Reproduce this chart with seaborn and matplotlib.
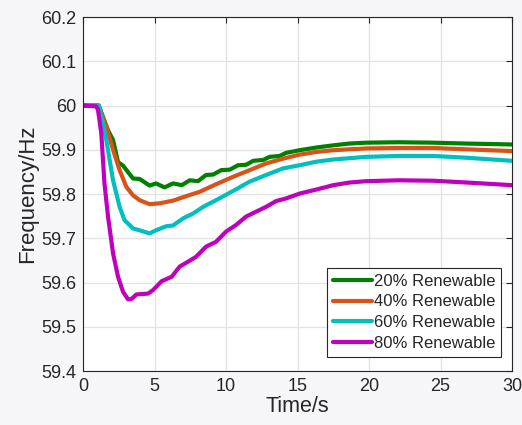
import numpy as np
import pandas as pd
import matplotlib
matplotlib.use("Agg")
import matplotlib.pyplot as plt
import seaborn as sns

# ---- data ----
t20 = [0, 1.1, 1.4, 1.75, 2.1, 2.45, 2.8, 3.5, 3.96, 4.66, 5.1, 5.7, 6.3, 6.9, 7.46, 8.04, 8.6, 9.1,
       9.67, 10.26, 10.84, 11.4, 11.9, 12.6, 13.05, 13.75, 14.2, 15.15, 16.3, 17.5, 18.6, 19.8, 22.1,
       24.5, 26.8, 30]
f20 = [60.0, 60.0, 59.974, 59.944, 59.922, 59.872, 59.864, 59.835, 59.834, 59.819, 59.824, 59.815,
       59.824, 59.82, 59.831, 59.829, 59.843, 59.844, 59.854, 59.855, 59.865, 59.866, 59.875, 59.877,
       59.884, 59.886, 59.893, 59.899, 59.905, 59.91, 59.914, 59.916, 59.917, 59.916, 59.914, 59.912]

t40 = [0, 1.1, 1.4, 1.63, 2.1, 2.56, 3.03, 3.5, 3.96, 4.66, 5.36, 6.3, 7.2, 8.16, 9.3, 10.5, 11.65,
       12.8, 14.0, 15.15, 16.3, 17.5, 19.8, 22.1, 24.5, 26.8, 30]
f40 = [60.0, 60.0, 59.971, 59.952, 59.90, 59.854, 59.816, 59.797, 59.786, 59.777, 59.779, 59.785,
       59.795, 59.805, 59.822, 59.839, 59.854, 59.869, 59.88, 59.889, 59.895, 59.899, 59.903, 59.904,
       59.904, 59.901, 59.897]

t60 = [0, 1.1, 1.4, 1.63, 2.1, 2.56, 2.9, 3.5, 3.96, 4.66, 5.1, 5.8, 6.3, 7.0, 7.7, 8.4, 9.3, 10.5,
       11.65, 12.8, 14.0, 15.15, 16.3, 17.5, 19.8, 22.1, 24.5, 26.8, 30]
f60 = [60.0, 60.0, 59.959, 59.922, 59.831, 59.771, 59.741, 59.722, 59.718, 59.711, 59.718, 59.727,
       59.729, 59.745, 59.756, 59.771, 59.786, 59.807, 59.828, 59.843, 59.858, 59.865, 59.873, 59.878,
       59.884, 59.886, 59.886, 59.882, 59.875]

t80 = [0, 0.93, 1.05, 1.28, 1.5, 1.75, 2.1, 2.45, 2.8, 3.15, 3.4, 3.73, 4.55, 4.9, 5.5, 6.2, 6.76,
       7.34, 7.9, 8.6, 9.3, 10.0, 10.7, 11.4, 12.1, 12.8, 13.5, 14.2, 15.15, 16.3, 17.5, 18.65, 19.8,
       22.1, 24.5, 26.8, 30]
f80 = [60.0, 59.998, 59.99, 59.937, 59.824, 59.749, 59.666, 59.613, 59.579, 59.562, 59.563, 59.573,
       59.575, 59.583, 59.603, 59.613, 59.636, 59.647, 59.658, 59.681, 59.692, 59.715, 59.73, 59.749,
       59.76, 59.771, 59.784, 59.79, 59.801, 59.81, 59.82, 59.826, 59.829, 59.831, 59.83, 59.826, 59.82]

labels = ["20% Renewable", "40% Renewable", "60% Renewable", "80% Renewable"]
colors = ["#008000", "#D95319", "#00BFBF", "#BF00BF"]
x_ticks = [0, 5, 10, 15, 20, 25, 30]
y_ticks = [59.4, 59.5, 59.6, 59.7, 59.8, 59.9, 60.0, 60.1, 60.2]
y_tick_labels = ["59.4", "59.5", "59.6", "59.7", "59.8", "59.9", "60", "60.1", "60.2"]

frames = []
for lab, t, f in zip(labels, [t20, t40, t60, t80], [f20, f40, f60, f80]):
    frames.append(pd.DataFrame({"Time": t, "Freq": f, "Case": lab}))
df = pd.concat(frames, ignore_index=True)

sns.set_style("white")
plt.rcParams["font.family"] = ["Liberation Sans", "DejaVu Sans"]

fig = plt.figure(figsize=(5.22, 4.25), dpi=100, facecolor="#f6f6f9")
ax = fig.add_axes([0.159, 0.127, 0.822, 0.833])
ax.set_facecolor("white")

sns.lineplot(data=df, x="Time", y="Freq", hue="Case", hue_order=labels,
             palette=colors, linewidth=3.0, ax=ax, sort=False, estimator=None)

ax.set_xlim(0, 30)
ax.set_ylim(59.4, 60.2)
ax.set_xticks(x_ticks)
ax.set_xticklabels([str(v) for v in x_ticks])
ax.set_yticks(y_ticks)
ax.set_yticklabels(y_tick_labels)
ax.grid(True, color="#e2e2e2", linewidth=0.9)
ax.set_axisbelow(True)
ax.tick_params(direction="in", length=4, width=0.8, top=True, right=True,
               labelsize=13, colors="#262626", pad=5)
for s in ax.spines.values():
    s.set_visible(True)
    s.set_color("#262626")
    s.set_linewidth(0.8)

ax.set_xlabel("Time/s", fontsize=15.5, color="#262626", labelpad=1)
ax.set_ylabel("Frequency/Hz", fontsize=16, color="#262626", labelpad=2)

leg = ax.legend(loc="lower right", bbox_to_anchor=(0.975, 0.04), fontsize=12,
                frameon=True, fancybox=False, framealpha=1, edgecolor="#262626",
                handlelength=2.3, handletextpad=0.15, borderpad=0.35, labelspacing=0.35,
                borderaxespad=0)
leg.get_frame().set_linewidth(0.8)
for line in leg.get_lines():
    line.set_linewidth(3.0)

fig.savefig("out.png", dpi=100, facecolor=fig.get_facecolor())
